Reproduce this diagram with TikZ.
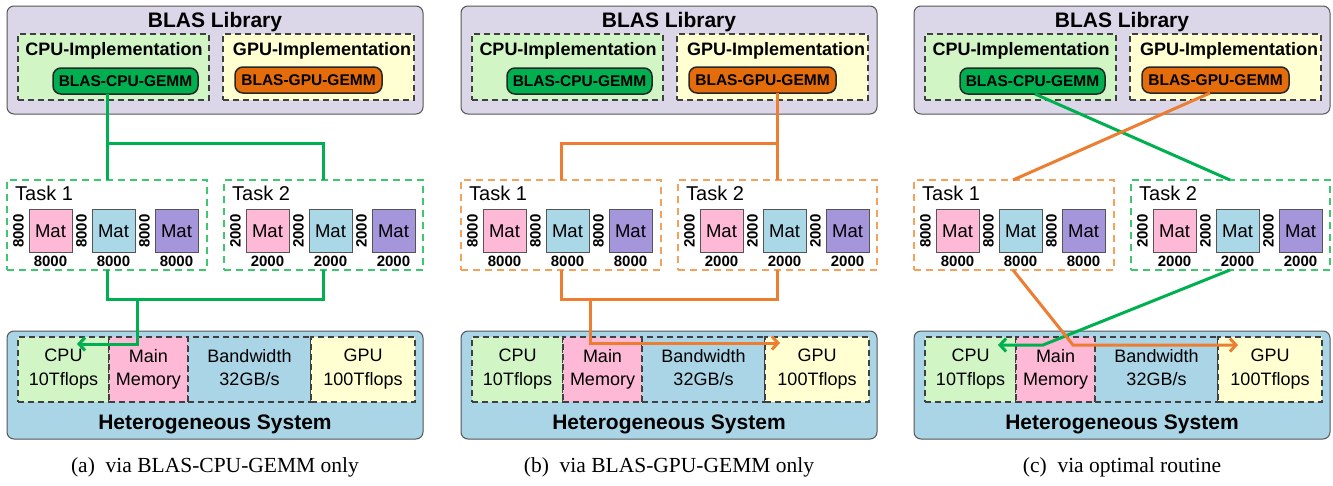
\documentclass[tikz,border=0pt]{standalone}
\usepackage{fontspec}
\setmainfont{Liberation Sans}
\newfontfamily\capfont{Liberation Serif}
\usetikzlibrary{arrows.meta}
\definecolor{libfill}{HTML}{DCD7E8}
\definecolor{cpufill}{HTML}{D2F5C6}
\definecolor{gpufill}{HTML}{FFFFD2}
\definecolor{gemmgreen}{HTML}{00B050}
\definecolor{gemmorange}{HTML}{E46C0A}
\definecolor{linegreen}{HTML}{00B050}
\definecolor{lineorange}{HTML}{ED7D31}
\definecolor{taskgreen}{HTML}{3DC86E}
\definecolor{taskorange}{HTML}{F4A25A}
\definecolor{matpink}{HTML}{FDB9D5}
\definecolor{matblue}{HTML}{ABD8E6}
\definecolor{matpurple}{HTML}{A595DA}
\definecolor{sysfill}{HTML}{A9D5E6}
\definecolor{edgegray}{HTML}{555555}
\tikzset{
  outerbox/.style={draw=edgegray, line width=1pt, rounded corners=7pt, inner sep=0, outer sep=0},
  implbox/.style={draw=black!75, line width=1.2pt, dash pattern=on 6pt off 4pt, inner sep=0, outer sep=0},
  gemm/.style={draw=black!85, line width=1.5pt, rounded corners=8pt, inner sep=0, outer sep=0,
    font=\bfseries\fontsize{15.5}{18}\selectfont},
  taskbox/.style={line width=1.3pt, dash pattern=on 7pt off 5pt, inner sep=0, outer sep=0},
  mat/.style={draw=edgegray, line width=1pt, minimum width=43pt, minimum height=43pt, inner sep=0, outer sep=0,
    font=\fontsize{18.5}{20}\selectfont},
  dimlab/.style={font=\bfseries\fontsize{15}{16}\selectfont, inner sep=0},
  cell/.style={draw=black!75, line width=1.2pt, dash pattern=on 6pt off 4pt, inner sep=0, outer sep=0,
    align=center, font=\fontsize{18}{24}\selectfont},
  title/.style={font=\bfseries\fontsize{21}{24}\selectfont, inner sep=0, anchor=base},
  impltitle/.style={font=\bfseries\fontsize{18}{20}\selectfont, inner sep=0, anchor=base},
  tasktitle/.style={font=\fontsize{20}{24}\selectfont, inner sep=0, anchor=base west},
  captext/.style={font=\capfont\fontsize{21.5}{24}\selectfont, inner sep=0, anchor=base},
  wire/.style={line width=3pt},
  arrowwire/.style={line width=3pt, -{Straight Barb[length=6pt,width=13pt]}}
}
\newcommand\bx[7]{\node[#1, minimum width={(#5-#3)*1pt}, minimum height={(#6-#4)*1pt}] (#2) at ({(#3+#5)/2},{(#4+#6)/2}) {#7};}
\newcommand\matset[3]{%
  \foreach \c/\k/\o in {matpink/1/43.5, matblue/2/106.5, matpurple/3/169.5}{%
    \node[mat, fill=\c] (#1m\k) at ({#2+\o},231) {Mat};
    \node[dimlab, rotate=90] (#1v\k) at ({#2+\o-32},231) {#3};
    \node[dimlab, anchor=base] (#1h\k) at ({#2+\o},266.5) {#3};
  }}
\newcommand\panelbase[3]{%
  % BLAS library
  \bx{outerbox, fill=libfill}{lib}{7}{6}{423}{114}{}
  \node[title] (libt) at (215,27) {BLAS Library};
  \bx{implbox, fill=cpufill}{cpuimpl}{18}{34}{209}{100}{}
  \node[impltitle] (cpuimplt) at (114,55) {CPU-Implementation};
  \bx{implbox, fill=gpufill}{gpuimpl}{223}{34}{414}{100}{}
  \node[impltitle] (gpuimplt) at (322,55) {GPU-Implementation};
  \bx{gemm, fill=gemmgreen}{cpugemm}{53}{68}{198}{94}{BLAS-CPU-GEMM}
  \bx{gemm, fill=gemmorange}{gpugemm}{235}{67}{382}{93}{BLAS-GPU-GEMM}
  % tasks
  \bx{taskbox, draw=#1}{task1}{7}{180}{207}{270}{}
  \node[tasktitle] (task1t) at (15,200) {Task 1};
  \matset{ta}{7}{8000}
  \bx{taskbox, draw=#2}{task2}{224}{180}{423}{270}{}
  \node[tasktitle] (task2t) at (232,200) {Task 2};
  \matset{tb}{224}{2000}
  % heterogeneous system
  \bx{outerbox, fill=sysfill}{sys}{7}{331}{423}{439}{}
  \bx{cell, fill=cpufill}{cpu}{18}{337}{109}{402}{CPU\\10Tflops}
  \bx{cell, fill=matpink}{mem}{109}{337}{188}{402}{\raisebox{-5pt}{\begin{tabular}{@{}c@{}}Main\\[-1pt]Memory\end{tabular}}}
  \bx{cell, fill=sysfill}{bw}{188}{337}{311}{402}{\raisebox{-5pt}{\begin{tabular}{@{}c@{}}Bandwidth\\[-1pt]32GB/s\end{tabular}}}
  \bx{cell, fill=gpufill}{gpu}{311}{337}{415}{402}{GPU\\100Tflops}
  \node[title] (syst) at (215,429) {Heterogeneous System};
  \node[captext] (cap) at (215,472) {#3};
}
\begin{document}
\begin{tikzpicture}[x=1pt, y=-1pt]
\useasboundingbox[fill=white] (0,0) rectangle (1333,485);
% ---------- panel (a)
\begin{scope}[name prefix=a-]
  \panelbase{taskgreen}{taskgreen}{(a)\ \ via BLAS-CPU-GEMM only}
  \coordinate (j1) at (107,143); \coordinate (j2) at (323,143);
  \coordinate (k1) at (107,299); \coordinate (k2) at (323,299);
  \coordinate (k3) at (137,299); \coordinate (k4) at (137,344); \coordinate (k5) at (77,344);
  \draw[wire, linegreen] (cpugemm.south -| j1) -- (j1) -- (task1.north -| j1);
  \draw[wire, linegreen] (j1) -- (j2) -- (task2.north -| j2);
  \draw[wire, linegreen] (task1.south -| k1) -- (k1) -- (k2) -- (task2.south -| k2);
  \draw[arrowwire, linegreen] (k3) -- (k4) -- (k5);
\end{scope}
% ---------- panel (b)
\begin{scope}[xshift=454pt, name prefix=b-]
  \panelbase{taskorange}{taskorange}{(b)\ \ via BLAS-GPU-GEMM only}
  \coordinate (j1) at (107,143); \coordinate (j2) at (323,143);
  \coordinate (k1) at (107,299); \coordinate (k2) at (323,299);
  \coordinate (k3) at (136,299); \coordinate (k4) at (136,343); \coordinate (k5) at (326,343);
  \draw[wire, lineorange] (gpugemm.south -| j2) -- (j2) -- (task2.north -| j2);
  \draw[wire, lineorange] (j2) -- (j1) -- (task1.north -| j1);
  \draw[wire, lineorange] (task1.south -| k1) -- (k1) -- (k2) -- (task2.south -| k2);
  \draw[arrowwire, lineorange] (k3) -- (k4) -- (k5);
\end{scope}
% ---------- panel (c)
\begin{scope}[xshift=907pt, name prefix=c-]
  \panelbase{taskorange}{taskgreen}{(c)\ \ via optimal routine}
  \coordinate (g1) at (128,0); \coordinate (g2) at (323,0);
  \coordinate (o1) at (303,0); \coordinate (o2) at (106,0);
  \coordinate (o3) at (166,345); \coordinate (o4) at (331,345);
  \coordinate (g3) at (136,345); \coordinate (g4) at (91,345);
  \draw[wire, linegreen] (cpugemm.south -| g1) -- (task2.north -| g2);
  \draw[wire, lineorange] (gpugemm.south -| o1) -- (task1.north -| o2);
  \draw[arrowwire, linegreen] (task2.south -| g2) -- (g3) -- (g4);
  \draw[arrowwire, lineorange] (task1.south -| o2) -- (o3) -- (o4);
\end{scope}
\end{tikzpicture}
\end{document}
